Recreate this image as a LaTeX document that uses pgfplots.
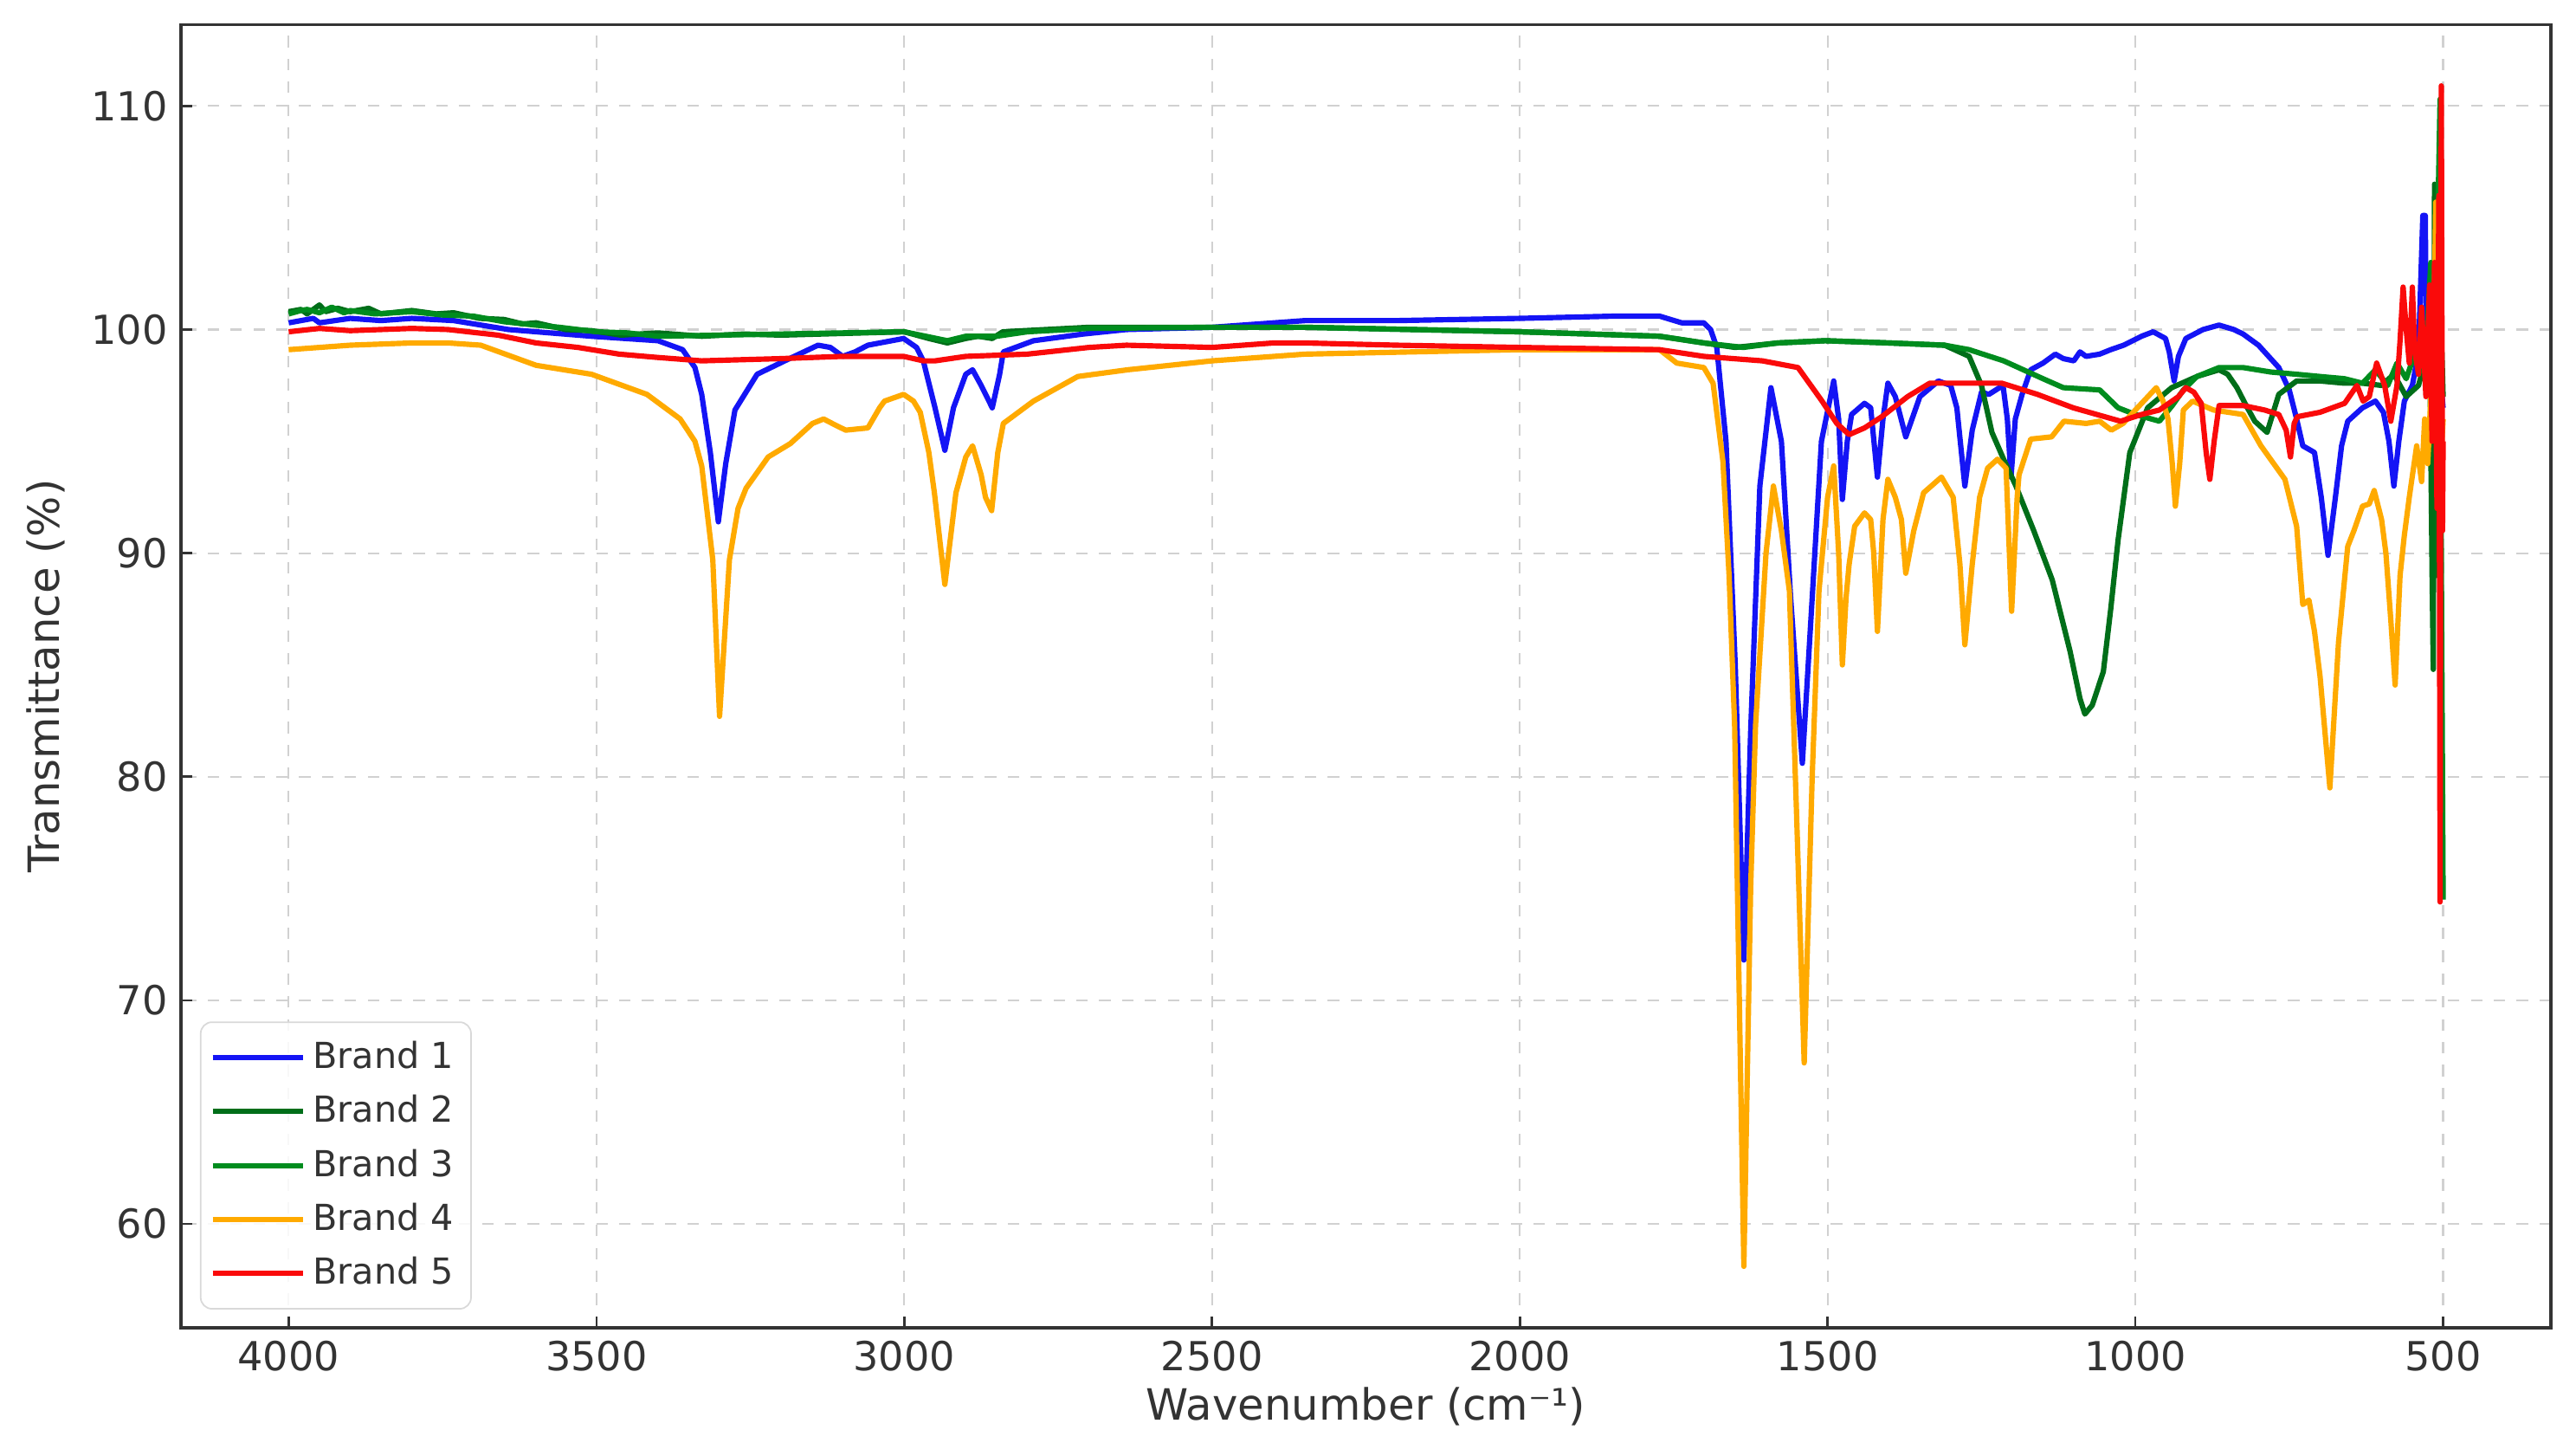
\documentclass[border=0pt]{standalone}
\usepackage{fontspec}
\setmainfont{DejaVu Sans}
\usepackage{pgfplots}
\pgfplotsset{compat=1.18}
\definecolor{bOne}{RGB}{20,20,245}
\definecolor{bTwo}{RGB}{0,110,25}
\definecolor{bThree}{RGB}{0,140,30}
\definecolor{bFour}{RGB}{255,170,0}
\definecolor{bFive}{RGB}{250,10,10}
\begin{document}
\begin{tikzpicture}
\begin{axis}[
  at={(0,0)}, anchor=south west,
  width=622pt, height=342pt, scale only axis,
  x dir=reverse,
  xmin=325, xmax=4175, ymin=55.35, ymax=113.65,
  xtick={500,1000,1500,2000,2500,3000,3500,4000},
  ytick={60,70,80,90,100,110},
  xtick pos=bottom, ytick pos=left,
  tick align=inside, major tick length=3pt,
  tick style={black!80, line width=0.6pt},
  axis line style={black!80, line width=0.7pt},
  grid=major,
  grid style={dashed, black!18, line width=0.5pt},
  /pgf/number format/assume math mode=true,
  /pgf/number format/1000 sep={},
  ticklabel style={font=\fontsize{10.5}{12}\selectfont, text=black!80},
  xlabel={Wavenumber (cm⁻¹)},
  ylabel={Transmittance (\%)},
  label style={font=\fontsize{11.3}{13}\selectfont, text=black!80},
  xlabel style={at={(0.5,0)}, yshift=-12pt, anchor=north},
  ylabel style={at={(0,0.5)}, yshift=27pt, anchor=south},
  legend cell align=left,
  legend style={at={(0.008,0.014)}, anchor=south west,
    font=\fontsize{9.4}{11}\selectfont, text=black!80,
    draw=black!15, rounded corners=3pt, fill=white, fill opacity=0.85, text opacity=1,
    row sep=1.5pt, inner xsep=2.5pt, inner ysep=3pt,
    nodes={inner xsep=2pt}},
  legend image code/.code={\draw[#1, line width=1.4pt] (0pt,0pt) -- (20pt,0pt); \path (0pt,0pt) -- (23.6pt,0pt);},
  every axis plot/.append style={line width=1.4pt, line join=round},
]
% Brand 1
\addplot[bOne] coordinates {
(4000,100.3)(3960,100.5)(3950,100.3)(3900,100.5)(3850,100.4)(3800,100.5)(3732,100.4)(3643,100.0)(3508,99.7)(3400,99.5)(3360,99.1)(3340,98.3)(3329,97.1)(3315,94.5)(3302,91.4)(3290,94.0)(3275,96.4)(3239,98.0)(3194,98.6)(3140,99.3)(3120,99.2)(3100,98.8)(3080,99.0)(3059,99.3)(3001,99.6)(2980,99.2)(2969,98.6)(2950,96.5)(2934,94.6)(2920,96.5)(2900,98.0)(2889,98.2)(2875,97.5)(2857,96.5)(2845,98.0)(2839,99.0)(2790,99.5)(2709,99.8)(2639,100.0)(2500,100.1)(2349,100.4)(2200,100.4)(2000,100.5)(1845,100.6)(1773,100.6)(1737,100.3)(1701,100.3)(1690,100.0)(1680,99.2)(1665,95)(1650,85)(1636,71.8)(1625,82)(1610,93)(1592,97.4)(1575,95)(1560,88)(1541,80.6)(1525,88)(1510,95)(1490,97.7)(1482,96)(1476,92.4)(1468,95)(1461,96.2)(1440,96.7)(1430,96.5)(1419,93.4)(1410,96)(1402,97.6)(1390,97)(1373,95.2)(1350,97)(1320,97.7)(1300,97.5)(1290,96.5)(1277,93.0)(1265,95.5)(1250,97.2)(1238,97.1)(1215,97.5)(1208,96)(1202,93.4)(1195,96)(1184,97.1)(1170,98.2)(1150,98.5)(1130,98.9)(1117,98.7)(1100,98.6)(1090,99.0)(1080,98.8)(1058,98.9)(1040,99.1)(1019,99.3)(990,99.7)(971,99.9)(951,99.6)(945,99)(937,97.7)(930,98.8)(918,99.6)(890,100.0)(864,100.2)(840,100.0)(825,99.8)(800,99.3)(767,98.3)(750,97.3)(738,96.0)(728,94.8)(709,94.5)(698,92.5)(687,89.9)(675,92.5)(665,94.8)(655,95.9)(631,96.5)(610,96.8)(597,96.3)(588,95)(580,93.0)(572,95)(563,96.8)(550,97.5)(540,99)(533,105.1)(529,105.1)(527,98)(520,101)(515,97)(510,99)(505,98)(500,96.5)
};
\addlegendentry{Brand 1}
% Brand 2
\addplot[bTwo] coordinates {
(4000,100.8)(3980,100.9)(3970,100.7)(3960,100.9)(3950,101.1)(3940,100.8)(3920,100.95)(3900,100.8)(3870,100.95)(3850,100.7)(3800,100.85)(3760,100.7)(3732,100.75)(3690,100.5)(3650,100.45)(3620,100.25)(3598,100.3)(3550,100.0)(3508,99.95)(3460,99.75)(3400,99.85)(3329,99.7)(3260,99.8)(3200,99.75)(3000,99.9)(2960,99.6)(2930,99.4)(2900,99.6)(2880,99.7)(2857,99.6)(2840,99.9)(2700,100.1)(2500,100.1)(2349,100.1)(2000,99.9)(1773,99.7)(1701,99.4)(1650,99.2)(1581,99.4)(1504,99.5)(1400,99.4)(1310,99.3)(1270,98.8)(1250,97.5)(1233,95.4)(1214,94.2)(1194,93.0)(1165,91.0)(1135,88.8)(1106,85.6)(1090,83.5)(1082,82.8)(1070,83.2)(1052,84.7)(1040,87.5)(1028,90.6)(1009,94.5)(980,96.5)(941,97.4)(900,97.9)(864,98.2)(850,98.0)(835,97.4)(820,96.6)(806,95.9)(786,95.4)(767,97.1)(738,97.7)(700,97.7)(660,97.6)(631,97.6)(600,97.5)(580,98)(560,97)(540,97.5)(530,98.5)(522,100)(518,89.1)(516,84.8)(514,106.5)(510,89)(505,95)(502,99)(500,97)
};
\addlegendentry{Brand 2}
% Brand 3
\addplot[bThree] coordinates {
(4000,100.7)(3980,100.85)(3970,100.9)(3950,100.75)(3930,101.0)(3910,100.75)(3900,100.85)(3860,100.7)(3800,100.8)(3750,100.65)(3700,100.6)(3650,100.35)(3600,100.2)(3560,100.1)(3500,99.9)(3450,99.85)(3400,99.7)(3300,99.75)(3200,99.8)(3000,99.9)(2930,99.5)(2900,99.7)(2850,99.7)(2800,99.9)(2700,100.05)(2500,100.1)(2349,100.1)(2000,99.9)(1773,99.7)(1701,99.4)(1637,99.2)(1581,99.4)(1504,99.5)(1400,99.4)(1310,99.3)(1270,99.1)(1214,98.6)(1150,97.8)(1117,97.4)(1058,97.3)(1028,96.5)(1000,96.2)(961,95.9)(940,96.6)(922,97.3)(900,97.9)(864,98.3)(825,98.3)(780,98.1)(738,98.0)(700,97.9)(660,97.8)(631,97.6)(610,98.2)(590,97.5)(575,98.5)(560,97.8)(545,99)(530,98)(520,103)(512,100)(505,110.3)(503,90)(500,74.5)
};
\addlegendentry{Brand 3}
% Brand 4
\addplot[bFour] coordinates {
(4000,99.1)(3900,99.3)(3800,99.4)(3741,99.4)(3688,99.3)(3598,98.4)(3508,98.0)(3418,97.1)(3364,96.0)(3340,95.0)(3329,93.9)(3311,89.7)(3300,82.7)(3284,89.7)(3270,92.0)(3257,92.9)(3221,94.3)(3185,94.9)(3149,95.8)(3131,96.0)(3110,95.7)(3095,95.5)(3059,95.6)(3040,96.5)(3032,96.8)(3001,97.1)(2985,96.8)(2974,96.3)(2960,94.5)(2951,92.7)(2934,88.6)(2916,92.7)(2900,94.3)(2889,94.8)(2875,93.5)(2868,92.5)(2858,91.9)(2848,94.5)(2839,95.8)(2790,96.8)(2718,97.9)(2637,98.2)(2500,98.6)(2349,98.9)(2000,99.1)(1773,99.1)(1745,98.5)(1701,98.3)(1686,97.6)(1670,94.1)(1660,89)(1651,82.3)(1636,58.1)(1625,75)(1617,82.3)(1600,90)(1588,93.0)(1575,91)(1562,88.3)(1550,78)(1538,67.2)(1525,80)(1514,88.3)(1500,92.5)(1490,93.9)(1482,90)(1476,85.0)(1470,88)(1465,89.5)(1456,91.2)(1440,91.8)(1430,91.5)(1425,90)(1419,86.5)(1410,91.5)(1402,93.3)(1390,92.5)(1380,91.5)(1373,89.1)(1360,91)(1344,92.7)(1315,93.4)(1296,92.5)(1285,89.5)(1277,85.9)(1265,89.5)(1253,92.5)(1240,93.8)(1224,94.2)(1210,93.8)(1201,87.4)(1192,92.5)(1189,93.5)(1170,95.1)(1136,95.2)(1116,95.9)(1080,95.8)(1058,95.9)(1039,95.5)(1020,95.8)(1000,96.4)(966,97.4)(955,96.8)(947,96.0)(940,94)(935,92.1)(928,94)(922,96.4)(907,96.8)(873,96.4)(825,96.2)(796,94.8)(757,93.3)(738,91.2)(728,87.7)(718,87.9)(709,86.5)(700,84.5)(684,79.5)(670,86)(655,90.3)(645,91)(631,92.1)(620,92.2)(612,92.8)(600,91.5)(593,90)(585,87)(578,84.1)(570,89)(563,90.8)(555,92.5)(543,94.8)(535,93.2)(530,96)(525,94)(520,97)(515,100)(512,105.7)(508,96)(505,98)(502,95)(500,96)
};
\addlegendentry{Brand 4}
% Brand 5
\addplot[bFive] coordinates {
(4000,99.9)(3950,100.05)(3900,99.95)(3800,100.05)(3741,100.0)(3660,99.75)(3598,99.4)(3530,99.2)(3463,98.9)(3400,98.75)(3329,98.6)(3200,98.7)(3100,98.8)(3001,98.8)(2969,98.6)(2950,98.6)(2900,98.8)(2800,98.9)(2700,99.2)(2639,99.3)(2500,99.2)(2400,99.4)(2349,99.4)(2200,99.3)(2000,99.2)(1773,99.1)(1701,98.8)(1606,98.6)(1548,98.3)(1509,96.8)(1485,95.8)(1465,95.3)(1440,95.6)(1412,96.1)(1370,97.0)(1334,97.6)(1217,97.6)(1159,97.1)(1101,96.5)(1024,95.9)(990,96.2)(961,96.4)(930,97.0)(918,97.4)(905,97.2)(893,96.7)(885,94.5)(879,93.3)(872,95)(864,96.6)(825,96.6)(790,96.4)(767,96.2)(755,95.5)(748,94.3)(742,95.8)(737,96.1)(700,96.3)(660,96.7)(640,97.5)(630,96.8)(620,97.0)(608,98.5)(595,97.5)(585,95.9)(575,97.5)(570,99.5)(565,101.9)(560,100)(555,98.5)(550,101.9)(546,99)(540,98)(535,101)(528,97)(522,102)(518,95)(514,103)(510,92)(507,106)(505,74.4)(503,110.9)(501,91)(500,95)
};
\addlegendentry{Brand 5}
\end{axis}
\pgfresetboundingbox
\path (-47.5pt,-33.4pt) rectangle (628.6pt,348.4pt);
\end{tikzpicture}
\end{document}
